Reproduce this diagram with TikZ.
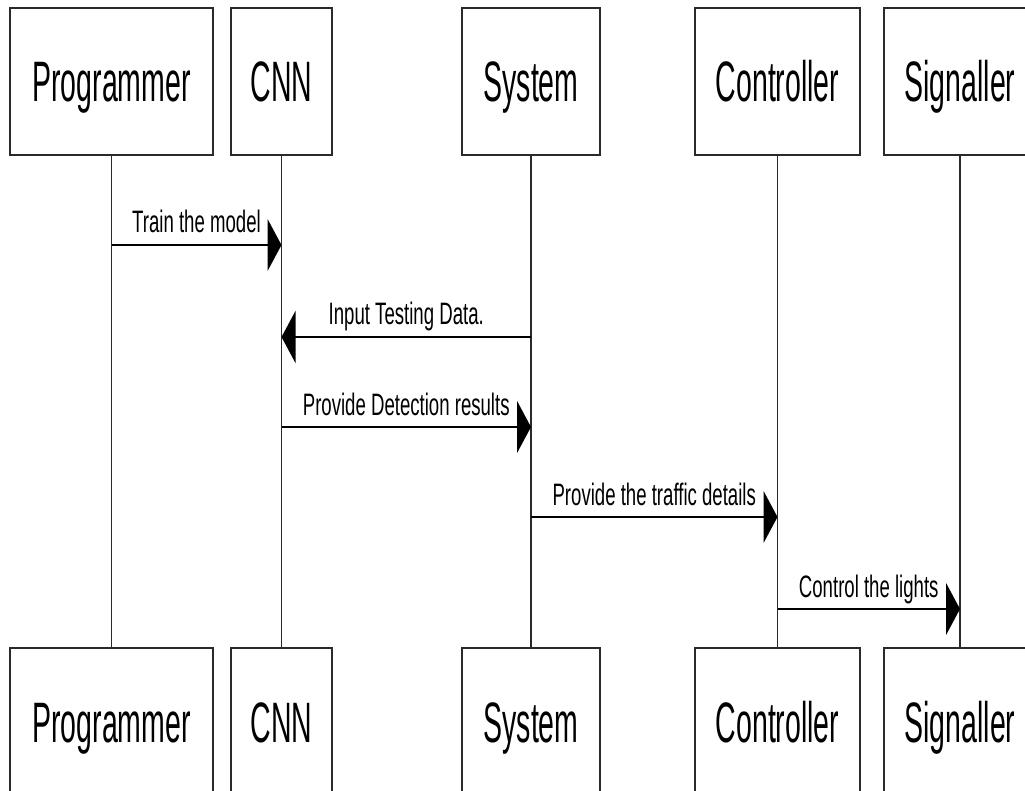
\documentclass[tikz,border=0pt]{standalone}
\usepackage{fontspec}
\newfontfamily\boxfont[FakeStretch=0.5]{Liberation Sans}
\newfontfamily\msgfont[FakeStretch=0.6]{Liberation Sans}
\usetikzlibrary{arrows.meta}
\definecolor{linegray}{HTML}{2A2A2A}
\tikzset{
  actor/.style={draw=linegray, line width=1.8pt, fill=white, rectangle, inner sep=0pt,
    minimum height=147pt, font=\boxfont\fontsize{57}{57}\selectfont,
    text height=41pt, text depth=0pt},
  lifeline/.style={draw=linegray, line width=1.2pt},
  msg/.style={draw=black, line width=2pt, -{Triangle[length=14pt,width=52pt]}},
  msglabel/.style={font=\msgfont\fontsize{31}{31}\selectfont, anchor=base, inner sep=0pt, yshift=12pt}
}
\begin{document}
\begin{tikzpicture}[x=1pt,y=-1pt]
\clip (0,0) rectangle (1025,791);
\fill[white] (0,0) rectangle (1025,791);
% top actors
\node[actor, minimum width=203pt] (p1) at (111.5,81.5) {Programmer};
\node[actor, minimum width=101pt] (c1) at (281.5,81.5) {CNN};
\node[actor, minimum width=138pt] (s1) at (531,81.5) {System};
\node[actor, minimum width=165pt] (k1) at (777.5,81.5) {Controller};
\node[actor, minimum width=152pt] (g1) at (960,81.5) {Signaller};
% bottom actors
\node[actor, minimum width=203pt] (p2) at (111.5,721.5) {Programmer};
\node[actor, minimum width=101pt] (c2) at (281.5,721.5) {CNN};
\node[actor, minimum width=138pt] (s2) at (531,721.5) {System};
\node[actor, minimum width=165pt] (k2) at (777.5,721.5) {Controller};
\node[actor, minimum width=152pt] (g2) at (960,721.5) {Signaller};
% lifelines
\draw[lifeline] (p1.south) -- (p2.north);
\draw[lifeline] (c1.south) -- (c2.north);
\draw[lifeline] (s1.south) -- (s2.north);
\draw[lifeline] (k1.south) -- (k2.north);
\draw[lifeline] (g1.south) -- (g2.north);
% message points
\coordinate (m1a) at (p1.south |- 0,245);
\coordinate (m1b) at (c1.south |- 0,245);
\coordinate (m2a) at (s1.south |- 0,337);
\coordinate (m2b) at (c1.south |- 0,337);
\coordinate (m3a) at (c1.south |- 0,427);
\coordinate (m3b) at (s1.south |- 0,427);
\coordinate (m4a) at (s1.south |- 0,517);
\coordinate (m4b) at (k1.south |- 0,517);
\coordinate (m5a) at (k1.south |- 0,609);
\coordinate (m5b) at (g1.south |- 0,609);
% messages
\draw[msg] (m1a) -- node[msglabel] {Train the model} (m1b);
\draw[msg] (m2a) -- node[msglabel] {Input Testing Data.} (m2b);
\draw[msg] (m3a) -- node[msglabel] {Provide Detection results} (m3b);
\draw[msg] (m4a) -- node[msglabel] {Provide the traffic details} (m4b);
\draw[msg] (m5a) -- node[msglabel] {Control the lights} (m5b);
\end{tikzpicture}
\end{document}
